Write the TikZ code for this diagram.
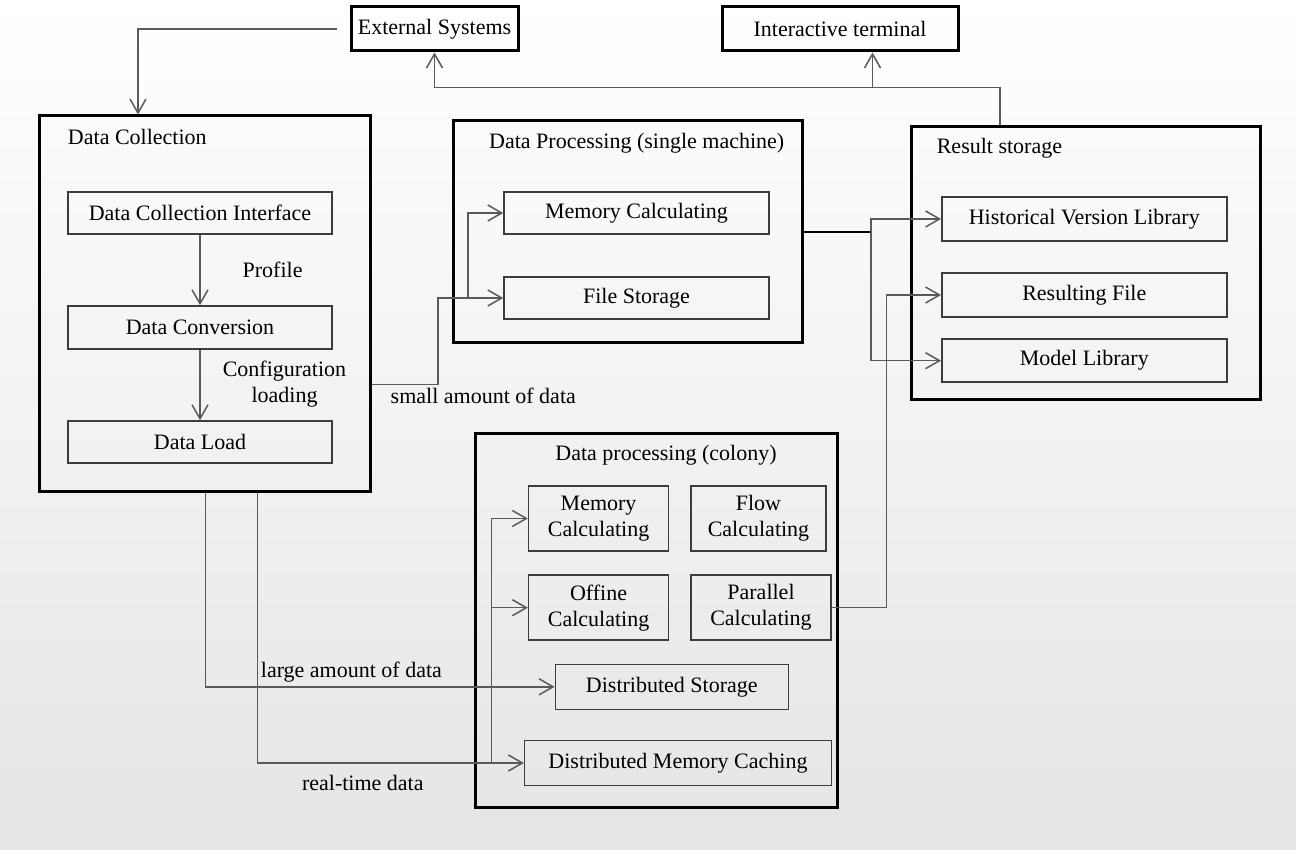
\documentclass[tikz,border=0pt]{standalone}
\usepackage{fontspec}
\setmainfont{Liberation Serif}
\usetikzlibrary{arrows.meta}
\definecolor{bgtop}{HTML}{FFFFFF}
\definecolor{bgmid}{HTML}{F5F5F5}
\definecolor{bgbot}{HTML}{E5E5E5}
\definecolor{conncol}{HTML}{5A5A5A}
\definecolor{boxcol}{HTML}{3C3C3C}
\begin{document}
\begin{tikzpicture}[x=0.5pt,y=-0.5pt,
  every node/.style={font=\fontsize{11}{13}\selectfont, text=black},
  obox/.style={draw=black, line width=1.5pt, inner sep=0pt},
  ibox/.style={draw=boxcol, line width=0.75pt, inner sep=0pt, align=center},
  lbl/.style={inner sep=0pt, align=center},
  conn/.style={draw=conncol, line width=0.75pt},
  arr/.style={conn, -{Straight Barb[length=7pt,width=8pt]}},
  darkline/.style={draw=black, line width=1.1pt}
]
\shade[top color=bgtop, middle color=bgmid, bottom color=bgbot] (0,0) rectangle (1296,850);
\useasboundingbox (0,0) rectangle (1296,850);

% outer boxes
\node[obox, minimum width=83.5pt, minimum height=22pt] (es) at (434.5,29) {External Systems};
\node[obox, minimum width=118pt, minimum height=22pt] (it) at (840,29) {Interactive terminal};
\node[obox, minimum width=165.5pt, minimum height=187.5pt] (dc) at (204.5,303.5) {};
\node[obox, minimum width=174.5pt, minimum height=111pt] (dps) at (627.5,232) {};
\node[obox, minimum width=174.25pt, minimum height=136pt] (rs) at (1085.75,263) {};
\node[obox, minimum width=181.15pt, minimum height=187.2pt] (col) at (656.5,620.5) {};

% titles
\node[lbl, anchor=west] (dctitle) at (67.6,137) {Data Collection};
\node[lbl] (dpstitle) at (636.7,143) {Data Processing (single machine)};
\node[lbl, anchor=west] (rstitle) at (936.4,148) {Result storage};
\node[lbl] (coltitle) at (666,455) {Data processing (colony)};

% inner boxes: data collection
\node[ibox, minimum width=132pt, minimum height=21pt] (dci) at (200,213) {Data Collection Interface};
\node[ibox, minimum width=132pt, minimum height=21.5pt] (dconv) at (200,327.5) {Data Conversion};
\node[ibox, minimum width=132pt, minimum height=21pt] (dload) at (200,442) {Data Load};

% single machine
\node[ibox, minimum width=132.5pt, minimum height=21pt] (mcs) at (636.5,213) {Memory Calculating};
\node[ibox, minimum width=132.5pt, minimum height=21pt] (fs) at (636.5,298) {File Storage};

% result storage
\node[ibox, minimum width=142.5pt, minimum height=22pt] (hvl) at (1084.3,219) {Historical Version Library};
\node[ibox, minimum width=142.5pt, minimum height=22pt] (rf) at (1084.3,295) {Resulting File};
\node[ibox, minimum width=142.5pt, minimum height=21.5pt] (ml) at (1084.3,360.7) {Model Library};

% colony
\node[ibox, minimum width=70pt, minimum height=32.5pt] (mcc) at (598.6,518.5) {Memory\\Calculating};
\node[ibox, minimum width=67.5pt, minimum height=32.5pt] (flow) at (758.5,518.5) {Flow\\Calculating};
\node[ibox, minimum width=70pt, minimum height=32.5pt] (off) at (598.6,607.7) {Offine\\Calculating};
\node[ibox, minimum width=70pt, minimum height=32.5pt] (par) at (761,607.7) {Parallel\\Calculating};
\node[ibox, minimum width=116.5pt, minimum height=22.5pt] (dst) at (671.8,686.8) {Distributed Storage};
\node[ibox, minimum width=153.35pt, minimum height=22.3pt] (dmc) at (678,763) {Distributed Memory Caching};

% labels
\node[lbl] (lprofile) at (272.6,270) {Profile};
\node[lbl] (lconf) at (284.5,384) {Configuration\\loading};
\node[lbl] (lsmall) at (483.3,396) {small amount of data};
\node[lbl] (llarge) at (351.4,671.7) {large amount of data};
\node[lbl] (lreal) at (362.8,783.3) {real-time data};

% connectors
\draw[arr] ([xshift=-6.5pt]es.west) -| (138,0 |- dc.north);
\coordinate (rtop) at (1000,87.7);
\coordinate (jit) at (872.5,87.7);
\draw[arr] (1000,0 |- rs.north) -- (rtop) -| (es.south);
\draw[arr] (jit) -- (jit |- it.south);

\draw[arr] (dci.south) -- (dci.south |- dconv.north);
\draw[arr] (dconv.south) -- (dconv.south |- dload.north);

\draw[arr] (dc.east |- 0,384.3) -| (438,0 |- fs.west) -- (fs.west);
\draw[arr] (468,0 |- fs.west) |- (mcs.west);

\coordinate (jres) at (871,231.7);
\draw[darkline] (dps.east |- jres) -- (jres);
\draw[arr] (jres) |- (hvl.west);
\draw[arr] (jres) |- (ml.west);

\draw[arr] (par.east) -| (886.5,0 |- rf.west) -- (rf.west);

\draw[arr] (205.5,0 |- dc.south) |- (dst.west);
\draw[arr] (257.5,0 |- dc.south) |- (dmc.west);
\coordinate (jcol) at (491.6,0 |- dmc.west);
\draw[arr] (jcol) |- (mcc.west);
\draw[arr] (jcol) |- (off.west);
\end{tikzpicture}
\end{document}
